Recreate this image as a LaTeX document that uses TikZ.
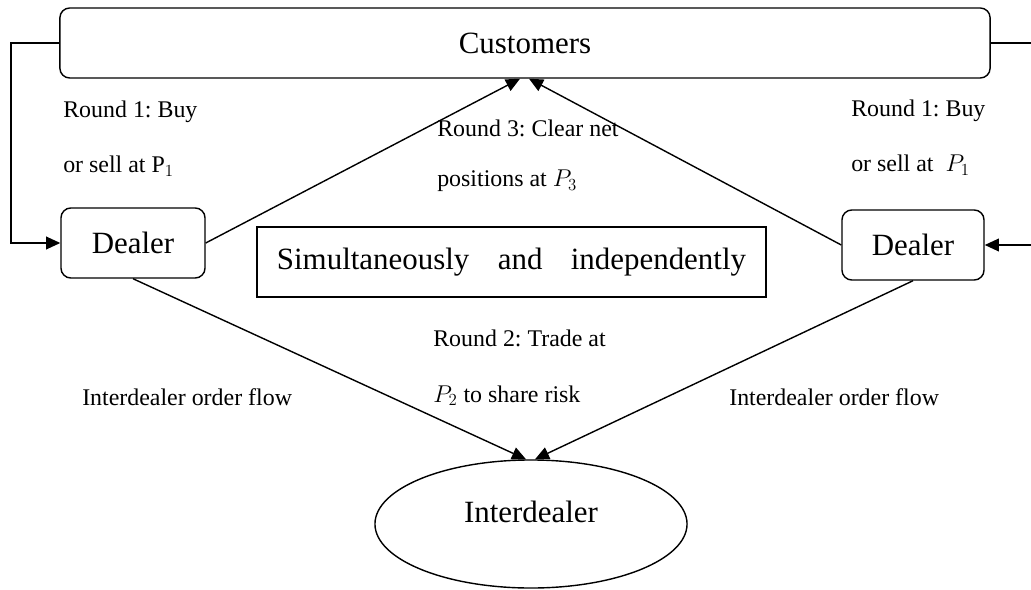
\documentclass[tikz,border=0pt]{standalone}
\usepackage{fontspec}
\setmainfont{Liberation Serif}
\frenchspacing
\usetikzlibrary{shapes.geometric, arrows.meta, positioning}
\tikzset{
    party/.style={rectangle, draw, line width=1pt, rounded corners=7pt, inner sep=0pt, minimum height=1.75cm, font=\fontsize{22}{26}\selectfont},
    note/.style={rectangle, draw, line width=1pt, inner sep=0pt, minimum width=12.725cm, minimum height=1.75cm, font=\fontsize{22}{26}\selectfont},
    market/.style={ellipse, draw, line width=1pt, inner sep=0pt, minimum width=7.8cm, minimum height=3.2cm, text height=0.7em, text depth=0.9em, font=\fontsize{22}{26}\selectfont},
    lbl/.style={anchor=base west, inner sep=0pt, font=\fontsize{17}{20}\selectfont},
    arrow/.style={-{Triangle[length=10pt, width=9pt]}, line width=1pt},
}
\begin{document}
\begin{tikzpicture}[x=0.025cm, y=-0.025cm]
    \useasboundingbox (0,0) rectangle (1031,590);
    % Row 1: Customers
    \node [party, minimum width=23.25cm] (cust) at (525,43) {Customers};
    % Row 2: Dealers and note
    \node [party, minimum width=3.6cm] (dealerL) at (133,243) {Dealer};
    \node [party, minimum width=3.55cm] (dealerR) at (913,245) {Dealer};
    \node [note] (sim) at (511.5,262) {\makebox[11.725cm]{Simultaneously\hfill and\hfill independently}};
    % Row 3: Interdealer market
    \node [market] (inter) at (531,524) {Interdealer};
    % Round 1: customer trades
    \draw [arrow] (cust.west) -- ++(-1.2cm,0) |- (dealerL.west);
    \draw [arrow] (cust.east) -- ++(1.25cm,0) |- (dealerR.east);
    % Round 3: clear positions
    \draw [arrow] (dealerL.east) -- ([xshift=-0.125cm]cust.south);
    \draw [arrow] (dealerR.west) -- ([xshift=0.1cm]cust.south);
    % Round 2: interdealer trading
    \draw [arrow] (dealerL.south) -- ([xshift=-0.125cm]inter.north);
    \draw [arrow] (dealerR.south) -- ([xshift=0.1cm]inter.north);
    % Labels
    \node [lbl] (r1a) at (63,118) {Round 1: Buy};
    \node [lbl] (r1b) at (63,173) {or sell at P$_1$};
    \node [lbl] (r1c) at (851,117) {Round 1: Buy};
    \node [lbl] (r1d) at (851,172) {or sell at \ $P_1$};
    \node [lbl] (r3a) at (437,137) {Round 3: Clear net};
    \node [lbl] (r3b) at (437,187) {positions at $P_3$};
    \node [lbl] (r2a) at (433,346) {Round 2: Trade at};
    \node [lbl] (r2b) at (433,402) {$P_2$ to share risk};
    \node [lbl] (flowL) at (82,405) {Interdealer order flow};
    \node [lbl] (flowR) at (729,405) {Interdealer order flow};
\end{tikzpicture}
\end{document}
